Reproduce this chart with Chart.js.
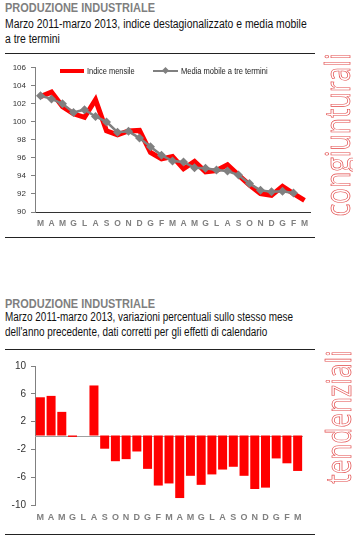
<!DOCTYPE html>
<html lang="it">
<head>
<meta charset="utf-8">
<script src="https://cdn.jsdelivr.net/npm/chart.js@4.4.1/dist/chart.umd.min.js"></script>
<style>
  body { margin: 0; width: 353px; height: 537px; position: relative; overflow: hidden; background: #fff;
         font-family: "Liberation Sans", Arial, sans-serif; }
  .titolo { position: absolute; left: 5px; font-size: 12px; font-weight: bold; color: #7f7f7f; white-space: nowrap; }
  .sotto { position: absolute; left: 5px; font-size: 12px; line-height: 14.5px; color: #111; white-space: nowrap; }
  .riga { position: absolute; left: 5px; width: 310px; height: 1px; background: #222; }
  .verticale { position: absolute; font-family: "Open Sans", sans-serif; font-weight: 400; font-size: 34px;
               line-height: 34px; white-space: nowrap; color: #fff; -webkit-text-stroke: 0.7px #e24a4a; }
  canvas { position: absolute; left: 0; }
  .leg { position: absolute; font-size: 9px; line-height: 10px; color: #222; white-space: nowrap; }
  [data-w] { transform-origin: 0 0; }
</style>
</head>
<body>

<div class="titolo" style="top:1px" data-w="150">PRODUZIONE INDUSTRIALE</div>
<div class="sotto" style="top:17px" data-w="302">Marzo 2011-marzo 2013, indice destagionalizzato e media mobile<br>a tre termini</div>
<div class="riga" style="top:53px"></div>

<canvas id="chart-congiunturali" width="318" height="178" style="top:58px"></canvas>

<!-- legenda dentro l'area del grafico -->
<div style="position:absolute;left:60px;top:69px;width:24px;height:4px;background:#ff0000"></div>
<div class="leg" style="left:87px;top:66px" data-w="48">Indice mensile</div>
<div style="position:absolute;left:153px;top:70px;width:25px;height:2px;background:#808080"></div>
<div style="position:absolute;left:163px;top:68px;width:5px;height:5px;background:#808080;transform:rotate(45deg)"></div>
<div class="leg" style="left:181px;top:66px" data-w="87">Media mobile a tre termini</div>

<div class="riga" style="top:237px"></div>

<div class="titolo" style="top:297px" data-w="150">PRODUZIONE INDUSTRIALE</div>
<div class="sotto" style="top:310px" data-w="288">Marzo 2011-marzo 2013, variazioni percentuali sullo stesso mese<br>dell'anno precedente, dati corretti per gli effetti di calendario</div>
<div class="riga" style="top:349px"></div>

<canvas id="chart-tendenziali" width="318" height="180" style="top:355px"></canvas>

<div class="riga" style="top:534px"></div>

<div class="verticale" id="v-cong" data-cx="336" data-cy="135" data-len="163">congiunturali</div>
<div class="verticale" id="v-tend" data-cx="337" data-cy="417" data-len="133">tendenziali</div>

<script>
// ── Dati ──────────────────────────────────────────────
const mesi = ['M', 'A', 'M', 'G', 'L', 'A', 'S', 'O', 'N', 'D', 'G', 'F',
              'M', 'A', 'M', 'G', 'L', 'A', 'S', 'O', 'N', 'D', 'G', 'F', 'M'];

const indiceMensile = [102.8, 103.3, 101.7, 100.9, 100.5, 102.45, 99.0, 98.55, 99.0, 99.05, 96.6, 95.9,
                       96.15, 94.8, 95.6, 94.45, 94.6, 95.25, 94.1, 93.0, 92.05, 91.85, 92.85, 92.05, 91.3];

const mediaMobile = [102.9, 102.55, 102.0, 101.05, 101.35, 100.6, 100.0, 98.85, 98.95, 98.2, 97.25, 96.3,
                     95.65, 95.55, 94.9, 94.85, 94.65, 94.55, 94.1, 93.15, 92.4, 92.25, 92.3, 92.1, null];

const variazioni = [5.5, 5.7, 3.4, -0.2, 0, 7.2, -1.9, -3.7, -3.4, -2.3, -4.8, -7.2,
                    -6.9, -9.0, -5.8, -7.1, -5.6, -4.9, -4.5, -5.8, -7.7, -7.5, -3.3, -4.0, -5.1];

const tickIndice = [90, 92, 94, 96, 98, 100, 102, 104, 106];
const tickVariazioni = [-10, -6, -2, 2, 6, 10];

// ── Stile comune ─────────────────────────────────────
const SANS = '"Liberation Sans", Arial, sans-serif';
const GRIGIO = '#808080';

// testi in "narrow": stringo in orizzontale fino alla larghezza dell'originale
document.querySelectorAll('[data-w]').forEach((el) => {
  el.style.transform = `scaleX(${Number(el.dataset.w) / el.offsetWidth})`;
});

// linea dello zero sul grafico a barre
const lineaZero = {
  id: 'lineaZero',
  beforeDatasetsDraw(chart) {
    const { ctx, chartArea, scales } = chart;
    const y = Math.round(scales.y.getPixelForValue(0)) + 0.5;
    ctx.save();
    ctx.strokeStyle = '#a0a0a0';
    ctx.lineWidth = 1;
    ctx.beginPath();
    ctx.moveTo(chartArea.left, y);
    ctx.lineTo(chartArea.right, y);
    ctx.stroke();
    ctx.restore();
  },
};

// ── Congiunturali: linee ─────────────────────────────
new Chart(document.getElementById('chart-congiunturali'), {
  type: 'line',
  data: {
    labels: mesi,
    datasets: [
      {
        label: 'Media mobile a tre termini',
        data: mediaMobile,
        borderColor: GRIGIO,
        backgroundColor: GRIGIO,
        borderWidth: 2.5,
        pointStyle: 'rectRot',
        pointRadius: 4.5,
        pointBorderWidth: 0,
        tension: 0,
        order: 1,
      },
      {
        label: 'Indice mensile',
        data: indiceMensile,
        borderColor: '#ff0000',
        borderWidth: 5,
        pointRadius: 0,
        tension: 0,
        order: 2,
      },
    ],
  },
  options: {
    responsive: false,
    animation: false,
    events: [],
    layout: { padding: { top: 9, right: 8, left: 0, bottom: 0 } },
    plugins: { legend: { display: false }, tooltip: { enabled: false } },
    scales: {
      x: {
        offset: true,
        grid: { display: false, drawTicks: false, tickLength: 0 },
        border: { display: true, color: '#333', width: 1 },
        ticks: { color: GRIGIO, font: { family: SANS, size: 8.5, weight: 'bold' }, padding: 7, maxRotation: 0, autoSkip: false },
        afterFit(s) { s.height = 24; },
      },
      y: {
        min: 90,
        max: 106,
        afterBuildTicks(s) { s.ticks = tickIndice.map((v) => ({ value: v })); },
        grid: { drawOnChartArea: false, drawTicks: true, tickLength: 4, color: GRIGIO },
        border: { color: GRIGIO },
        ticks: { color: '#333', font: { family: SANS, size: 8 }, padding: 5 },
        afterFit(s) { s.width = 35; },
      },
    },
  },
});

// ── Tendenziali: barre ───────────────────────────────
new Chart(document.getElementById('chart-tendenziali'), {
  type: 'bar',
  data: {
    labels: mesi,
    datasets: [
      {
        label: 'Variazioni tendenziali',
        data: variazioni,
        backgroundColor: '#ff0000',
        borderWidth: 0,
        barPercentage: 0.84,
        categoryPercentage: 1,
      },
    ],
  },
  options: {
    responsive: false,
    animation: false,
    events: [],
    layout: { padding: { top: 8, right: 15, left: 0, bottom: 0 } },
    plugins: { legend: { display: false }, tooltip: { enabled: false } },
    scales: {
      x: {
        offset: true,
        grid: { display: false, drawTicks: false, tickLength: 0 },
        border: { display: false },
        ticks: { color: GRIGIO, font: { family: SANS, size: 9, weight: 'bold' }, padding: 7, maxRotation: 0, autoSkip: false },
        afterFit(s) { s.height = 30; },
      },
      y: {
        min: -10,
        max: 10,
        afterBuildTicks(s) { s.ticks = tickVariazioni.map((v) => ({ value: v })); },
        grid: { drawOnChartArea: false, drawTicks: true, tickLength: 4, color: GRIGIO },
        border: { color: GRIGIO },
        ticks: { color: '#333', font: { family: SANS, size: 10 }, padding: 5 },
        afterFit(s) { s.width = 35; },
      },
    },
  },
  plugins: [lineaZero],
});

// ── Scritte verticali ────────────────────────────────
document.querySelectorAll('.verticale').forEach((el) => {
  const w = el.offsetWidth;
  const h = el.offsetHeight;
  const k = Number(el.dataset.len) / w;
  el.style.left = (Number(el.dataset.cx) - w / 2) + 'px';
  el.style.top = (Number(el.dataset.cy) - h / 2) + 'px';
  el.style.transform = `rotate(-90deg) scaleX(${k})`;
});
</script>
</body>
</html>
